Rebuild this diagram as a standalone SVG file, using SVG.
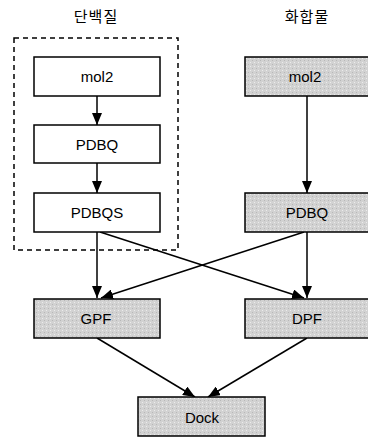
<svg xmlns="http://www.w3.org/2000/svg" width="368" height="437" viewBox="0 0 368 437">
<defs>
<marker id="ah" viewBox="0 0 12 10" refX="12" refY="5" markerWidth="12" markerHeight="10" markerUnits="userSpaceOnUse" orient="auto">
<path d="M0,0 L12,5 L0,10 z" fill="#000"/>
</marker>
<pattern id="grain" width="4" height="4" patternUnits="userSpaceOnUse">
<rect width="4" height="4" fill="#d2d2d2"/>
<rect x="0" y="0" width="1" height="1" fill="#b8b8b8"/>
<rect x="2" y="2" width="1" height="1" fill="#ececec"/>
</pattern>
</defs>
<style>
.box{fill:#fff;stroke:#000;stroke-width:1.5}
.gbox{fill:url(#grain);stroke:#000;stroke-width:1.5}
.lbl{font-family:"Liberation Sans",Arial,sans-serif;font-size:15px;fill:#000;text-anchor:middle}
.ttl{font-family:"Noto Sans CJK KR","Noto Sans",sans-serif;font-size:15px;letter-spacing:1px;fill:#000;text-anchor:middle}
.con{stroke:#000;stroke-width:1.5;fill:none;marker-end:url(#ah)}
</style>
<rect width="368" height="437" fill="#fff"/>
<text class="ttl" x="96" y="22">단백질</text>
<text class="ttl" x="307" y="22">화합물</text>
<g id="protein-group">
<rect x="14" y="38" width="164" height="212" fill="none" stroke="#000" stroke-width="1.5" stroke-dasharray="5,4"/>
</g>
<g id="connectors">
<line class="con" x1="97" y1="96" x2="97" y2="125"/>
<line class="con" x1="97" y1="163" x2="97" y2="193"/>
<line class="con" x1="97" y1="232" x2="97" y2="298"/>
<line class="con" x1="100" y1="232" x2="304" y2="298"/>
<line class="con" x1="307" y1="96" x2="307" y2="193"/>
<line class="con" x1="307" y1="232" x2="307" y2="298"/>
<line class="con" x1="304" y1="232" x2="101" y2="298"/>
<line class="con" x1="97" y1="338" x2="195" y2="397"/>
<line class="con" x1="307" y1="338" x2="208" y2="397"/>
</g>
<g id="p-mol2"><rect class="box" x="34" y="57" width="126" height="39"/><text class="lbl" x="97" y="82">mol2</text></g>
<g id="p-pdbq"><rect class="box" x="34" y="125" width="126" height="38"/><text class="lbl" x="97" y="150">PDBQ</text></g>
<g id="p-pdbqs"><rect class="box" x="34" y="193" width="126" height="39"/><text class="lbl" x="97" y="218">PDBQS</text></g>
<g id="c-mol2"><rect class="gbox" x="245" y="57" width="126" height="39"/><text class="lbl" x="305" y="82">mol2</text></g>
<g id="c-pdbq"><rect class="gbox" x="245" y="193" width="126" height="39"/><text class="lbl" x="307" y="218">PDBQ</text></g>
<g id="gpf"><rect class="gbox" x="34" y="299" width="126" height="39"/><text class="lbl" x="96" y="324">GPF</text></g>
<g id="dpf"><rect class="gbox" x="245" y="299" width="126" height="39"/><text class="lbl" x="307" y="324">DPF</text></g>
<g id="dock"><rect class="gbox" x="138" y="397" width="127" height="39"/><text class="lbl" x="202" y="423">Dock</text></g>
</svg>
